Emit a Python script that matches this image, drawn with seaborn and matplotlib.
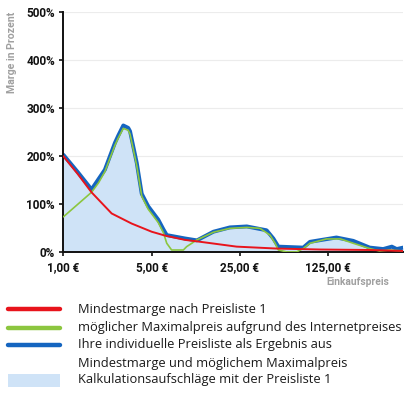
import numpy as np
import matplotlib
matplotlib.use("Agg")
import matplotlib.pyplot as plt
import seaborn as sns
from matplotlib.lines import Line2D
from matplotlib.patches import Rectangle
from matplotlib.ticker import FixedLocator, FixedFormatter, NullLocator

# --- data (price in EUR, margin in percent) ---
red_price = [1.00, 1.30, 1.67, 2.41, 3.47, 5.00, 6.37, 9.17, 11.4, 23.5, 48.8, 107, 266, 490]
red_pct = [200, 163, 125, 81, 60, 43, 35, 26, 23, 12, 8, 6, 5, 3]

green_price = [1.00, 1.67, 1.90, 2.13, 2.56, 2.72, 2.98, 3.26, 3.37, 3.81, 4.17, 4.69, 5.64,
               6.19, 6.58, 7.19, 8.91, 9.46, 11.4, 15.4, 20.8, 28.3, 36.0, 43.2, 47.4, 50.3,
               58.6, 70.1, 79.2, 89.5, 121, 156, 197, 266, 318, 382, 490]
green_pct = [74, 125, 145, 168, 223, 238, 258, 254, 246, 180, 117, 90, 62,
             41, 19, 5, 5, 12, 26, 42, 50, 52, 50, 36, 19, 5,
             1, 1, 8, 19, 28, 28, 19, 8, 3, 5, 3]

blue_price = [1.00, 1.30, 1.67, 2.13, 2.56, 2.72, 2.98, 3.26, 3.37, 3.81, 4.17, 4.69, 5.64,
              6.19, 6.58, 9.17, 11.4, 15.4, 20.8, 28.3, 40.6, 45.9, 50.3, 79.2, 89.5, 145,
              197, 266, 340, 398, 435, 490]
blue_pct = [203, 167, 131, 172, 228, 243, 264, 259, 252, 186, 122, 96, 68,
            48, 36, 29, 25, 43, 52, 54, 46, 29, 12, 10, 22, 31,
            24, 10, 7, 12, 7, 10]

y_ticks = [0, 100, 200, 300, 400, 500]
x_ticks = [1, 5, 25, 125]
x_labels = ["1,00 €", "5,00 €", "25,00 €", "125,00 €"]

legend_labels = [
    "Mindestmarge nach Preisliste 1",
    "möglicher Maximalpreis aufgrund des Internetpreises",
    "Ihre individuelle Preisliste als Ergebnis aus",
    "Mindestmarge und möglichem Maximalpreis",
    "Kalkulationsaufschläge mit der Preisliste 1",
]

RED = "#e8141c"
GREEN = "#8cc63f"
BLUE = "#1565c0"
FILL = "#cfe3f7"

sns.set_theme(style="white")
plt.rcParams['font.family'] = ['Roboto', 'DejaVu Sans']

fig = plt.figure(figsize=(4.17, 4.0), dpi=100)
ax = fig.add_axes([0.152, 0.369, 0.815, 0.601])

ax.fill_between(blue_price, 0, blue_pct, color=FILL, lw=0, zorder=1)
sns.lineplot(x=red_price, y=red_pct, color=RED, lw=1.4, ax=ax, zorder=4)
sns.lineplot(x=blue_price, y=blue_pct, color=BLUE, lw=2.8, ax=ax, zorder=2)
sns.lineplot(x=green_price, y=green_pct, color=GREEN, lw=1.2, ax=ax, zorder=3)

ax.set_xscale("log", base=5)
ax.set_xlim(1, 490)
ax.set_ylim(0, 500)
ax.xaxis.set_major_locator(FixedLocator(x_ticks))
ax.xaxis.set_major_formatter(FixedFormatter(x_labels))
ax.xaxis.set_minor_locator(NullLocator())
ax.set_yticks(y_ticks)
ax.set_yticklabels([f"{v}%" for v in y_ticks])

ax.grid(axis='y', color="#ececec", lw=0.8)
ax.grid(axis='x', visible=False)
ax.set_axisbelow(True)
for s in ["top", "right"]:
    ax.spines[s].set_visible(False)
for s in ["left", "bottom"]:
    ax.spines[s].set_color("#111111")
    ax.spines[s].set_linewidth(1.4)
ax.tick_params(axis='both', which='major', length=3, width=1.2, color="#111111",
               labelsize=8.5, labelcolor="#111111", pad=3, left=True, bottom=True)
for lab in ax.get_xticklabels() + ax.get_yticklabels():
    lab.set_fontweight("bold")

ax.set_xlabel("")
ax.set_ylabel("")
fig.text(0.029, 0.868, "Marge in Prozent", rotation=90, ha='center', va='center',
         fontsize=7.6, fontweight='bold', color="#a0a0a0")
fig.text(0.933, 0.294, "Einkaufspreis", ha='right', va='center',
         fontsize=7.4, fontweight='bold', color="#a0a0a0")

# --- manual legend below the chart ---
line_y = [0.227, 0.181, 0.138]
text_y = [0.227, 0.181, 0.138, 0.0925, 0.050]
for y, c in zip(line_y, [RED, GREEN, BLUE]):
    fig.add_artist(Line2D([0.019, 0.144], [y, y], color=c, lw=3.2, transform=fig.transFigure))
fig.add_artist(Rectangle((0.019, 0.0325), 0.125, 0.0325, color=FILL, lw=0,
                         transform=fig.transFigure))
for y, t in zip(text_y, legend_labels):
    fig.text(0.187, y, t, ha='left', va='center', fontsize=9.3, color="#1a1a1a",
             family=['Open Sans', 'DejaVu Sans'])

fig.savefig("out.png", dpi=100)
